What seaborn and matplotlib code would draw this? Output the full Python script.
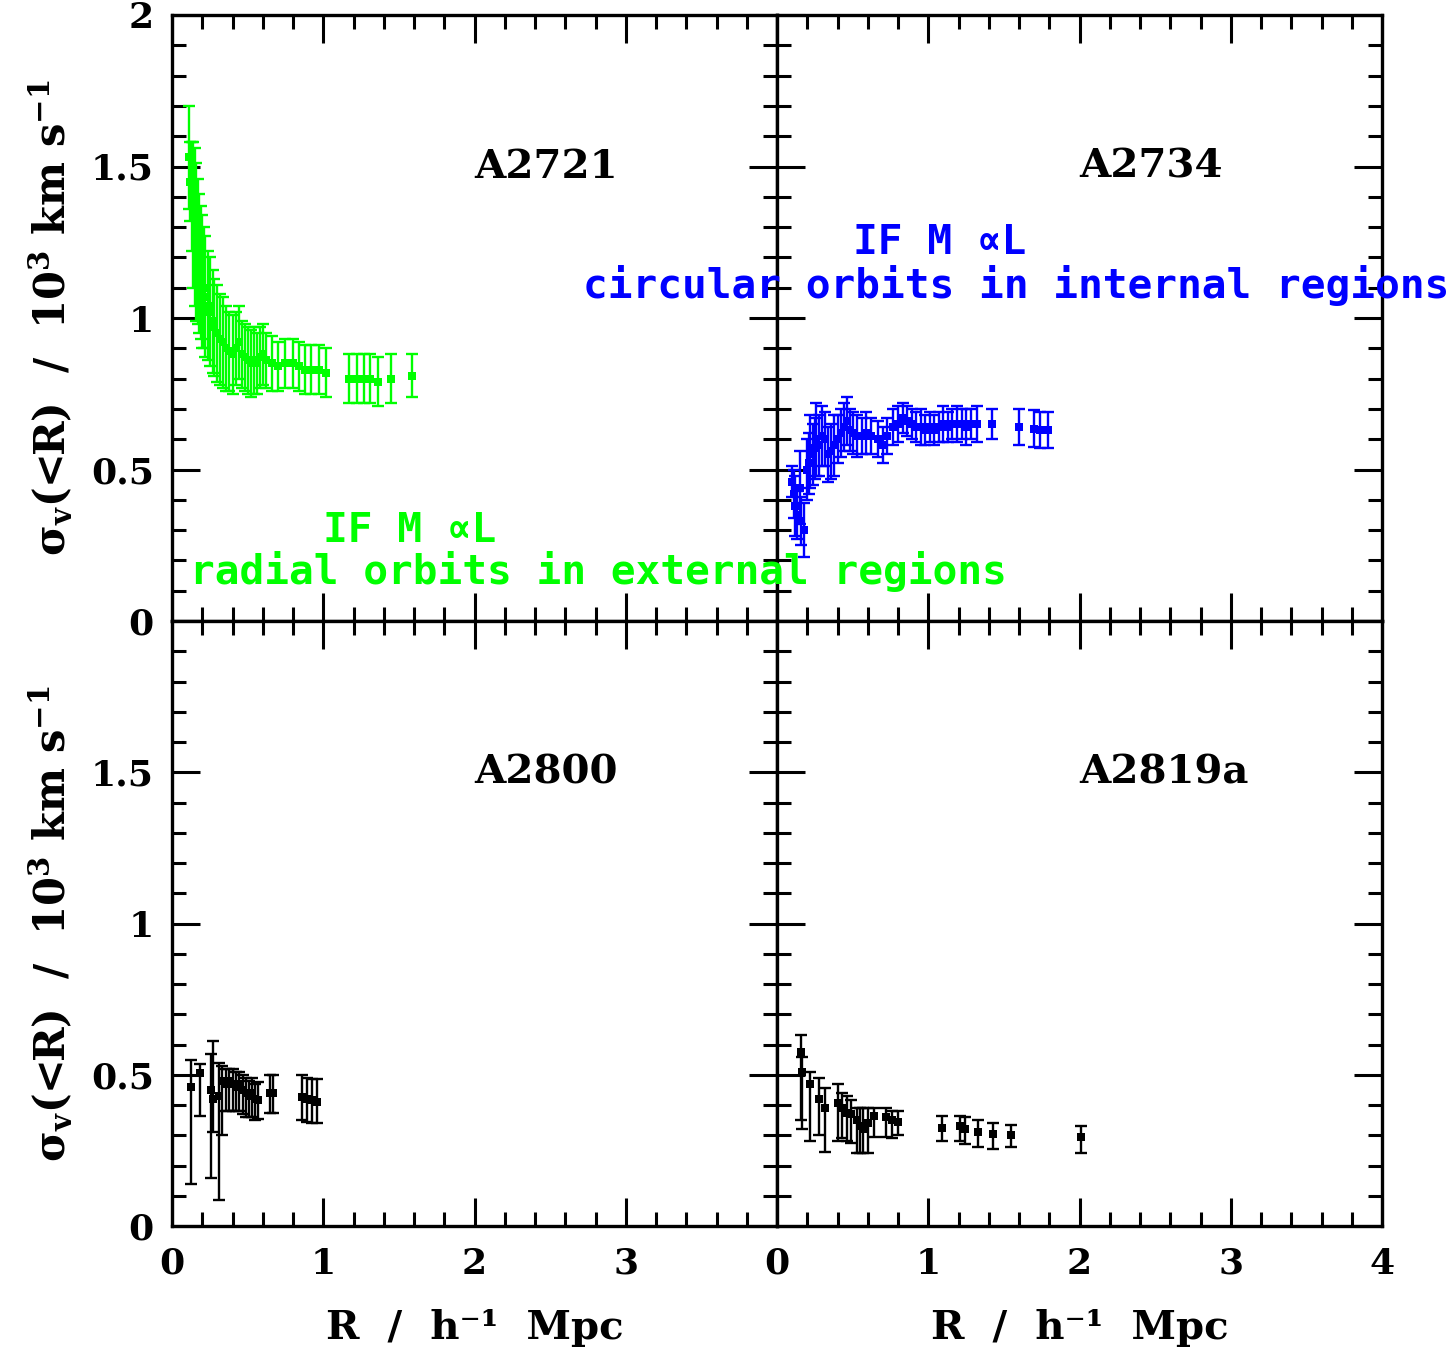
import numpy as np
import pandas as pd
import matplotlib
matplotlib.use("Agg")
import matplotlib.pyplot as plt
from matplotlib.ticker import MultipleLocator, FuncFormatter
import seaborn as sns

# ---------------- data ----------------
a2721_r = [0.11, 0.12, 0.13, 0.14, 0.15, 0.16, 0.17, 0.18, 0.19, 0.20, 0.21, 0.22, 0.24, 0.25,
           0.27, 0.28, 0.30, 0.32, 0.34, 0.36, 0.38, 0.40, 0.42, 0.44, 0.46, 0.48, 0.50, 0.52,
           0.54, 0.56, 0.58, 0.60, 0.62, 0.66, 0.70, 0.75, 0.80, 0.84, 0.88, 0.92, 0.97, 1.02,
           1.17, 1.22, 1.27, 1.31, 1.36, 1.45, 1.59]
a2721_s = [1.53, 1.45, 1.40, 1.34, 1.30, 1.25, 1.22, 1.18, 1.15, 1.12, 1.10, 1.07, 1.04, 1.02,
           0.99, 0.97, 0.95, 0.93, 0.92, 0.90, 0.89, 0.88, 0.90, 0.92, 0.88, 0.87, 0.86, 0.85,
           0.86, 0.85, 0.87, 0.88, 0.86, 0.85, 0.84, 0.85, 0.85, 0.84, 0.83, 0.83, 0.83, 0.82,
           0.80, 0.80, 0.80, 0.80, 0.79, 0.80, 0.81]
a2721_e = [0.17, 0.13, 0.18, 0.24, 0.26, 0.26, 0.24, 0.23, 0.22, 0.22, 0.20, 0.20, 0.18, 0.18,
           0.17, 0.16, 0.16, 0.15, 0.15, 0.14, 0.13, 0.13, 0.12, 0.12, 0.11, 0.11, 0.11, 0.11,
           0.11, 0.10, 0.10, 0.10, 0.09, 0.09, 0.08, 0.08, 0.08, 0.08, 0.08, 0.08, 0.08, 0.08,
           0.08, 0.08, 0.08, 0.08, 0.08, 0.08, 0.07]

a2734_r = [0.10, 0.11, 0.12, 0.13, 0.15, 0.16, 0.18, 0.20, 0.21, 0.22, 0.24, 0.25, 0.26, 0.28,
           0.30, 0.32, 0.34, 0.36, 0.38, 0.40, 0.42, 0.44, 0.46, 0.48, 0.50, 0.53, 0.56, 0.59,
           0.62, 0.67, 0.70, 0.73, 0.77, 0.80, 0.83, 0.86, 0.89, 0.92, 0.95, 0.98, 1.01, 1.04,
           1.07, 1.10, 1.13, 1.16, 1.19, 1.22, 1.25, 1.28, 1.32, 1.42, 1.60, 1.70, 1.74, 1.79]
a2734_s = [0.46, 0.42, 0.38, 0.35, 0.44, 0.33, 0.30, 0.50, 0.52, 0.56, 0.55, 0.57, 0.60, 0.58,
           0.61, 0.60, 0.55, 0.56, 0.58, 0.60, 0.62, 0.64, 0.66, 0.63, 0.62, 0.61, 0.61, 0.62,
           0.61, 0.60, 0.58, 0.61, 0.64, 0.65, 0.67, 0.66, 0.65, 0.64, 0.64, 0.63, 0.64, 0.63,
           0.64, 0.65, 0.64, 0.65, 0.65, 0.65, 0.64, 0.65, 0.65, 0.65, 0.64, 0.635, 0.63, 0.63]
a2734_e = [0.05, 0.08, 0.10, 0.08, 0.12, 0.08, 0.09, 0.10, 0.10, 0.12, 0.10, 0.10, 0.12, 0.10,
           0.10, 0.09, 0.09, 0.09, 0.10, 0.08, 0.08, 0.08, 0.08, 0.07, 0.07, 0.07, 0.06, 0.07,
           0.06, 0.06, 0.06, 0.06, 0.06, 0.06, 0.05, 0.05, 0.05, 0.05, 0.06, 0.05, 0.05, 0.05,
           0.05, 0.06, 0.05, 0.05, 0.06, 0.05, 0.06, 0.05, 0.06, 0.05, 0.06, 0.06, 0.06, 0.06]

a2800_r = [0.125, 0.185, 0.26, 0.27, 0.31, 0.33, 0.36, 0.38, 0.40, 0.42, 0.44, 0.47, 0.49,
           0.51, 0.53, 0.55, 0.57, 0.65, 0.67, 0.86, 0.89, 0.925, 0.96]
a2800_s = [0.46, 0.505, 0.45, 0.42, 0.43, 0.48, 0.47, 0.48, 0.47, 0.46, 0.47, 0.45, 0.44,
           0.43, 0.44, 0.42, 0.415, 0.44, 0.44, 0.425, 0.42, 0.415, 0.41]
a2800_lo = [0.32, 0.14, 0.29, 0.11, 0.345, 0.18, 0.09, 0.10, 0.09, 0.08, 0.09, 0.08, 0.08,
            0.07, 0.08, 0.07, 0.06, 0.065, 0.065, 0.075, 0.075, 0.075, 0.07]
a2800_hi = [0.09, 0.03, 0.12, 0.19, 0.11, 0.05, 0.05, 0.04, 0.05, 0.05, 0.04, 0.05, 0.05,
            0.05, 0.05, 0.05, 0.06, 0.06, 0.06, 0.075, 0.07, 0.07, 0.075]

a2819_r = [0.16, 0.165, 0.22, 0.28, 0.32, 0.40, 0.43, 0.46, 0.49, 0.53, 0.55, 0.57, 0.60,
           0.64, 0.72, 0.76, 0.80, 1.09, 1.21, 1.24, 1.33, 1.43, 1.55, 2.01]
a2819_s = [0.575, 0.51, 0.47, 0.42, 0.39, 0.405, 0.39, 0.375, 0.37, 0.35, 0.33, 0.32, 0.34,
           0.365, 0.36, 0.35, 0.345, 0.325, 0.33, 0.32, 0.31, 0.305, 0.30, 0.295]
a2819_lo = [0.225, 0.19, 0.19, 0.12, 0.145, 0.125, 0.10, 0.095, 0.095, 0.11, 0.09, 0.08, 0.10,
            0.07, 0.065, 0.06, 0.045, 0.045, 0.05, 0.05, 0.05, 0.05, 0.04, 0.055]
a2819_hi = [0.055, 0.05, 0.04, 0.07, 0.065, 0.065, 0.05, 0.055, 0.045, 0.04, 0.06, 0.07, 0.05,
            0.025, 0.03, 0.03, 0.035, 0.04, 0.035, 0.04, 0.04, 0.035, 0.035, 0.035]

names = ["A2721", "A2734", "A2800", "A2819a"]
colors = ["#00ff00", "#0000ff", "#000000", "#000000"]

# ---------------- style ----------------
sns.set_theme(style="ticks")
plt.rcParams["font.family"] = ["DejaVu Serif"]
plt.rcParams["font.weight"] = "bold"
plt.rcParams["mathtext.fontset"] = "dejavuserif"
plt.rcParams["mathtext.default"] = "bf"
for k in ["text.color", "axes.labelcolor", "xtick.color", "ytick.color", "axes.edgecolor"]:
    plt.rcParams[k] = "black"

W, H = 1450, 1349
fig = plt.figure(figsize=(W / 100, H / 100), dpi=100)

x0, x1, x2 = 172, 777, 1382
y0, y1, y2 = 15, 621, 1226

def ax_at(left, top, right, bottom):
    return fig.add_axes([left / W, 1 - bottom / H, (right - left) / W, (bottom - top) / H])

axes = [ax_at(x0, y0, x1, y1), ax_at(x1, y0, x2, y1),
        ax_at(x0, y1, x1, y2), ax_at(x1, y1, x2, y2)]

datasets = [
    (a2721_r, a2721_s, a2721_e, a2721_e),
    (a2734_r, a2734_s, a2734_e, a2734_e),
    (a2800_r, a2800_s, a2800_lo, a2800_hi),
    (a2819_r, a2819_s, a2819_lo, a2819_hi),
]

ylab = r"$\sigma_{v}$(<R)  /  10$^{3}$ km s$^{-1}$"
xlab = "R  /  h⁻¹  Mpc"

for i, ax in enumerate(axes):
    r, s, lo, hi = datasets[i]
    df = pd.DataFrame({"R": r, "sigma": s})
    ax.errorbar(r, s, yerr=[lo, hi], fmt="none", ecolor=colors[i],
                elinewidth=1.7, capsize=4.5, capthick=1.7, zorder=2)
    sns.scatterplot(data=df, x="R", y="sigma", ax=ax, marker="s", color=colors[i],
                    s=34, linewidth=0, legend=False, zorder=3)
    ax.set_xlim(0, 4)
    ax.set_ylim(0, 2)
    ax.xaxis.set_major_locator(MultipleLocator(1))
    ax.xaxis.set_minor_locator(MultipleLocator(0.2))
    ax.yaxis.set_major_locator(MultipleLocator(0.5))
    ax.yaxis.set_minor_locator(MultipleLocator(0.1))
    ax.tick_params(which="both", direction="in", top=True, right=True,
                   labelsize=26, width=2.2, color="black", labelcolor="black")
    ax.tick_params(which="major", length=20)
    ax.tick_params(which="minor", length=10)
    ax.tick_params(axis="x", pad=15)
    ax.tick_params(axis="y", pad=13)
    for sp in ax.spines.values():
        sp.set_linewidth(2.4)
        sp.set_color("black")
    ax.set_xlabel("")
    ax.set_ylabel("")
    ax.text(2.0, 1.5, names[i], fontsize=29, fontweight="bold", ha="left", va="center")

    left = i % 2 == 0
    bottom = i >= 2
    if left:
        maxy = 2.0 if not bottom else 1.6
        ax.yaxis.set_major_formatter(FuncFormatter(
            lambda v, p, m=maxy: ("%g" % v) if v <= m + 1e-9 else ""))
        ax.set_ylabel(ylab, fontsize=30, fontweight="bold")
        ax.yaxis.set_label_coords(-0.16, 0.5)
    else:
        ax.tick_params(axis="y", labelleft=False)
    if bottom:
        maxx = 3.5 if left else 4.0
        ax.xaxis.set_major_formatter(FuncFormatter(
            lambda v, p, m=maxx: ("%g" % v) if v <= m else ""))
        ax.set_xlabel(xlab, fontsize=29, fontweight="bold", labelpad=20)
    else:
        ax.tick_params(axis="x", labelbottom=False)

# annotations spanning panels
mono = ["DejaVu Sans Mono"]
fs = 29.6
fig.text(323 / W, 1 - 530 / H, "IF M ∝L", color="#00ff00", fontsize=fs, family=mono,
         fontweight="bold", ha="left", va="center")
fig.text(190 / W, 1 - 572 / H, "radial orbits in external regions", color="#00ff00",
         fontsize=fs, family=mono, fontweight="bold", ha="left", va="center")
fig.text(853 / W, 1 - 243 / H, "IF M ∝L", color="#0000ff", fontsize=fs, family=mono,
         fontweight="bold", ha="left", va="center")
fig.text(583 / W, 1 - 285 / H, "circular orbits in internal regions", color="#0000ff",
         fontsize=fs, family=mono, fontweight="bold", ha="left", va="center")

fig.savefig("out.png", dpi=100)
